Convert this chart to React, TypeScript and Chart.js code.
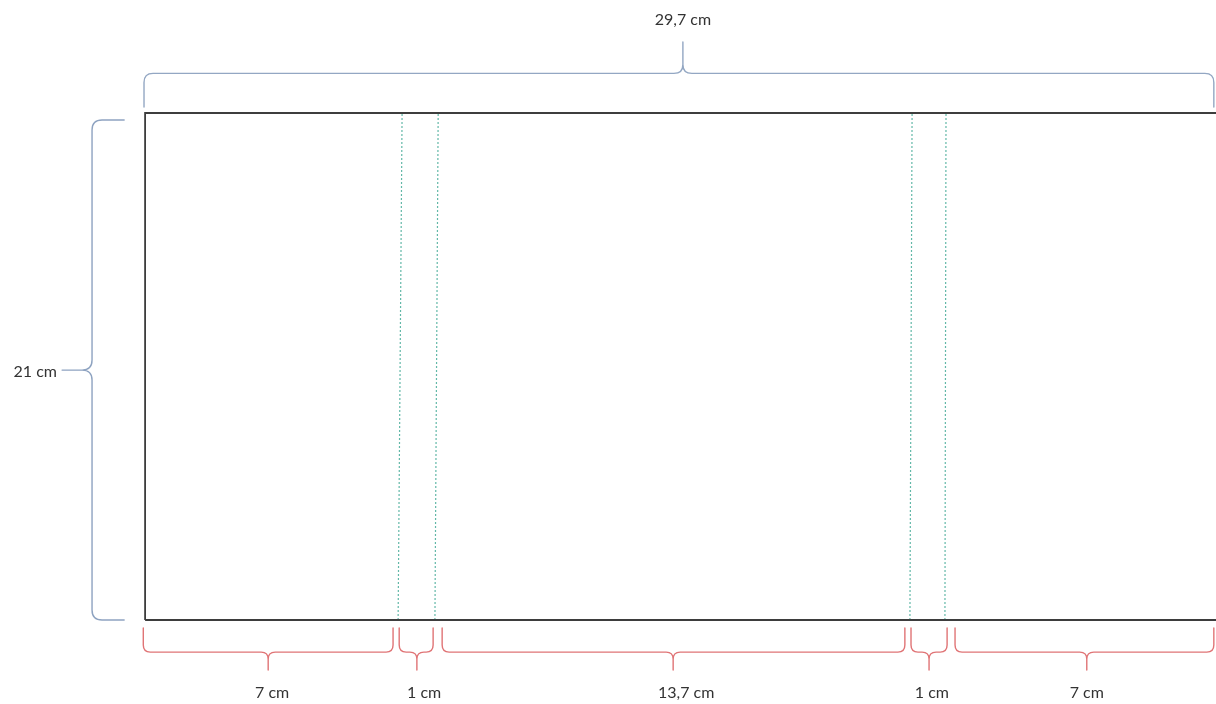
import React, { useEffect, useRef } from "react";
import { Chart, registerables } from "chart.js";

Chart.register(...registerables);

// Sheet dimensions (cm)
const sheetX = [0, 29.7, 29.7, 0, 0];
const sheetY = [0, 0, 21, 21, 0];

// Fold lines (dotted), x position in cm at top and bottom edge
const foldTopX = [7.12, 8.12, 21.25, 22.19];
const foldBottomX = [7.01, 8.03, 21.19, 22.16];

// Bottom segment braces
const segLabels = ["7 cm", "1 cm", "13,7 cm", "1 cm", "7 cm"];
const segStart = [-0.05, 7.04, 8.23, 21.22, 22.44];
const segEnd = [6.87, 7.98, 21.05, 22.22, 29.61];
const segTip = [3.41, 7.53, 14.63, 21.72, 26.09];
const segLabelX = [3.52, 7.73, 14.99, 21.8, 26.09];
const segLevels = [-0.33, -1.33, -2.07, -3.02]; // end, mid, tip, label (y, cm)

// Top width brace
const widthLabel = "29,7 cm";
const widthBrace = [-0.03, 29.61, 14.9]; // start, end, tip (x, cm)
const widthLevels = [21.25, 22.64, 23.94, 24.85]; // end, mid, tip, label (y, cm)

// Left height brace
const heightLabel = "21 cm";
const heightBrace = [20.71, 0.0, 10.35]; // top, bottom, tip (y, cm)
const heightLevels = [-0.58, -1.47, -2.3, -2.44]; // end, mid, tip, label (x, cm)

const X_MIN = -4.02;
const X_MAX = 29.67;
const Y_MIN = -3.48;
const Y_MAX = 25.68;

function hBrace(ctx: CanvasRenderingContext2D, x1: number, x2: number, xc: number, yE: number, yM: number, yT: number, rr: number) {
  const r = Math.min(rr, (xc - x1) / 2, (x2 - xc) / 2);
  const s = Math.sign(yE - yM);
  const t = Math.sign(yT - yM);
  ctx.beginPath();
  ctx.moveTo(x1, yE);
  ctx.lineTo(x1, yM + s * r);
  ctx.quadraticCurveTo(x1, yM, x1 + r, yM);
  ctx.lineTo(xc - r, yM);
  ctx.quadraticCurveTo(xc, yM, xc, yM + t * r);
  ctx.lineTo(xc, yT);
  ctx.moveTo(xc, yM + t * r);
  ctx.quadraticCurveTo(xc, yM, xc + r, yM);
  ctx.lineTo(x2 - r, yM);
  ctx.quadraticCurveTo(x2, yM, x2, yM + s * r);
  ctx.lineTo(x2, yE);
  ctx.stroke();
}

function vBrace(ctx: CanvasRenderingContext2D, y1: number, y2: number, yc: number, xE: number, xM: number, xT: number, rr: number) {
  const r = Math.min(rr, Math.abs(yc - y1) / 2, Math.abs(y2 - yc) / 2);
  const s = Math.sign(xE - xM);
  const t = Math.sign(xT - xM);
  ctx.beginPath();
  ctx.moveTo(xE, y1);
  ctx.lineTo(xM + s * r, y1);
  ctx.quadraticCurveTo(xM, y1, xM, y1 + r);
  ctx.lineTo(xM, yc - r);
  ctx.quadraticCurveTo(xM, yc, xM + t * r, yc);
  ctx.lineTo(xT, yc);
  ctx.moveTo(xM + t * r, yc);
  ctx.quadraticCurveTo(xM, yc, xM, yc + r);
  ctx.lineTo(xM, y2 - r);
  ctx.quadraticCurveTo(xM, y2, xM + s * r, y2);
  ctx.lineTo(xE, y2);
  ctx.stroke();
}

const diagramPlugin = {
  id: "diagram",
  afterDatasetsDraw(chart: any) {
    const { ctx } = chart;
    const xs = chart.scales.x;
    const ys = chart.scales.y;
    const px = (v: number) => xs.getPixelForValue(v);
    const py = (v: number) => ys.getPixelForValue(v);
    ctx.save();
    ctx.lineCap = "round";
    ctx.lineJoin = "round";
    ctx.font = "16px Lato, 'Open Sans', sans-serif";
    ctx.fillStyle = "#333333";
    ctx.textBaseline = "middle";

    // top brace
    ctx.strokeStyle = "#93a7c3";
    ctx.lineWidth = 1.4;
    hBrace(ctx, px(widthBrace[0]), px(widthBrace[1]), px(widthBrace[2]), py(widthLevels[0]), py(widthLevels[1]), py(widthLevels[2]), 9);
    ctx.textAlign = "center";
    ctx.fillText(widthLabel, px(widthBrace[2]), py(widthLevels[3]));

    // left brace
    ctx.strokeStyle = "#8ea3c1";
    vBrace(ctx, py(heightBrace[0]), py(heightBrace[1]), py(heightBrace[2]), px(heightLevels[0]), px(heightLevels[1]), px(heightLevels[2]), 10);
    ctx.textAlign = "right";
    ctx.fillText(heightLabel, px(heightLevels[3]), py(heightBrace[2]) + 2);

    // bottom braces
    ctx.strokeStyle = "#e07476";
    ctx.textAlign = "center";
    for (let i = 0; i < segLabels.length; i++) {
      hBrace(ctx, px(segStart[i]), px(segEnd[i]), px(segTip[i]), py(segLevels[0]), py(segLevels[1]), py(segLevels[2]), 7);
      ctx.fillText(segLabels[i], px(segLabelX[i]), py(segLevels[3]));
    }
    ctx.restore();
  },
};

export default function App() {
  const ref = useRef<HTMLCanvasElement | null>(null);
  useEffect(() => {
    if (!ref.current) return;
    const datasets: any[] = [
      {
        label: "sheet",
        data: sheetX.map((x, i) => ({ x, y: sheetY[i] })),
        showLine: true,
        borderColor: "#3d3d3d",
        borderWidth: 1.8,
        pointRadius: 0,
        tension: 0,
      },
    ];
    foldTopX.forEach((xt, i) => {
      datasets.push({
        label: "fold" + i,
        data: [
          { x: foldBottomX[i], y: 0 },
          { x: xt, y: 21 },
        ],
        showLine: true,
        borderColor: "#62b8a8",
        borderWidth: 1.2,
        borderDash: [2, 2],
        pointRadius: 0,
      });
    });
    const chart = new Chart(ref.current, {
      type: "scatter",
      data: { datasets },
      options: {
        animation: false,
        responsive: false,
        maintainAspectRatio: false,
        layout: { padding: 0 },
        plugins: { legend: { display: false }, tooltip: { enabled: false } },
        events: [],
        scales: {
          x: { type: "linear", min: X_MIN, max: X_MAX, display: false },
          y: { type: "linear", min: Y_MIN, max: Y_MAX, display: false },
        },
      },
      plugins: [diagramPlugin],
    } as any);
    return () => chart.destroy();
  }, []);
  return (
    <div style={{ position: "fixed", left: 0, top: 0, width: 1216, height: 704, background: "#fff" }}>
      <canvas ref={ref} width={1216} height={704} style={{ width: 1216, height: 704 }} />
    </div>
  );
}
